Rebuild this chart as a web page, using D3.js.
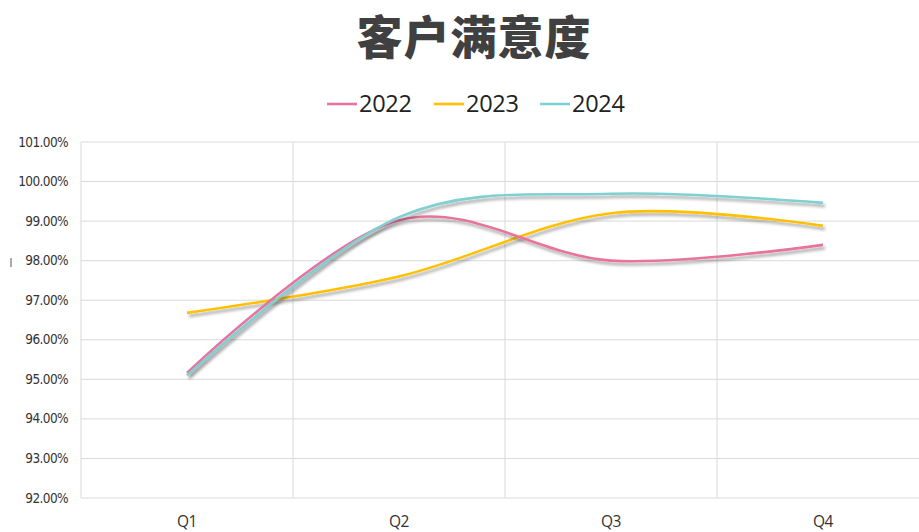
<!DOCTYPE html>
<html><head><meta charset="utf-8">
<script src="https://cdn.jsdelivr.net/npm/d3@7"></script>
<style>html,body{margin:0;padding:0;background:#fff;overflow:hidden}</style>
</head><body>
<svg id="c" width="919" height="532"></svg>
<script>
const categories = ["Q1","Q2","Q3","Q4"];
const seriesNames = ["2022","2023","2024"];
const values2022 = [0.9516, 0.9902, 0.9800, 0.9840];
const values2023 = [0.9668, 0.9760, 0.9920, 0.9888];
const values2024 = [0.9510, 0.9910, 0.9969, 0.9946];
const colors = ["#E8739D","#FFC000","#7FD0D3"];
const yTicks = [0.92,0.93,0.94,0.95,0.96,0.97,0.98,0.99,1.00,1.01];
const title = "客户满意度";

(function(){
const svg = d3.select("#c");
const pL = 81, pR = 929, pT = 142, pB = 498;

const defs = svg.append("defs");
const f = defs.append("filter").attr("id","sh").attr("x","-10%").attr("y","-10%").attr("width","120%").attr("height","130%");
f.append("feDropShadow").attr("dx",2).attr("dy",3).attr("stdDeviation",1.8).attr("flood-color","#000").attr("flood-opacity",0.35);

const x = d3.scaleBand().domain(categories).range([pL,pR]).paddingInner(0).paddingOuter(0);
const y = d3.scaleLinear().domain([0.92,1.01]).range([pB,pT]);

svg.append("g").selectAll("line").data(yTicks).join("line")
  .attr("x1",pL).attr("x2",pR).attr("y1",d=>y(d)).attr("y2",d=>y(d))
  .attr("stroke","#d9d9d9").attr("stroke-width",1);
const vx = categories.map(c=>x(c)).concat([pR]);
svg.append("g").selectAll("line").data(vx).join("line")
  .attr("x1",d=>d).attr("x2",d=>d).attr("y1",pT).attr("y2",pB)
  .attr("stroke","#d9d9d9").attr("stroke-width",1);

const fmt = d3.format(".2%");
svg.append("g").selectAll("text").data(yTicks).join("text")
  .attr("x",68).attr("y",d=>y(d)+4.5).attr("text-anchor","end")
  .attr("font-family","'Liberation Sans Narrow','DejaVu Sans Condensed',Arial,sans-serif")
  .attr("font-size",13.5).attr("letter-spacing",-0.6).attr("fill","#333").text(d=>fmt(d));

svg.append("g").selectAll("text").data(categories).join("text")
  .attr("x",d=>x(d)+x.bandwidth()/2).attr("y",527).attr("text-anchor","middle")
  .attr("font-family","'Open Sans',Arial,sans-serif").attr("font-size",15.5).attr("letter-spacing",-0.5)
  .attr("fill","#333").text(d=>d);

svg.append("line").attr("x1",11).attr("x2",11).attr("y1",258).attr("y2",267).attr("stroke","#555").attr("stroke-width",1);

const data = [values2022, values2023, values2024];
const line = d3.line().x((d,i)=>x(categories[i])+x.bandwidth()/2).y(d=>y(d)).curve(d3.curveCardinal.tension(0));
const order = [1,0,2];
const g = svg.append("g");
order.forEach(k=>{
  g.append("path").attr("d",line(data[k])).attr("fill","none").attr("stroke",colors[k])
   .attr("stroke-width",2.6).attr("stroke-linecap","butt").attr("filter","url(#sh)");
});

svg.append("text").attr("x",474).attr("y",54).attr("text-anchor","middle")
  .attr("font-family","'Noto Sans CJK SC',sans-serif").attr("font-weight",900).attr("font-size",46)
  .attr("letter-spacing",1).attr("fill","#404040").text(title);

const lg = svg.append("g");
const legX = [327, 434, 540];
seriesNames.forEach((s,i)=>{
  lg.append("line").attr("x1",legX[i]).attr("x2",legX[i]+30).attr("y1",104).attr("y2",104)
    .attr("stroke",colors[i]).attr("stroke-width",2.6);
  lg.append("text").attr("x",legX[i]+32).attr("y",112).attr("font-family","'Open Sans',Arial,sans-serif")
    .attr("font-size",23.5).attr("letter-spacing",-0.3).attr("fill","#222").text(s);
});
})();
</script>
</body></html>
